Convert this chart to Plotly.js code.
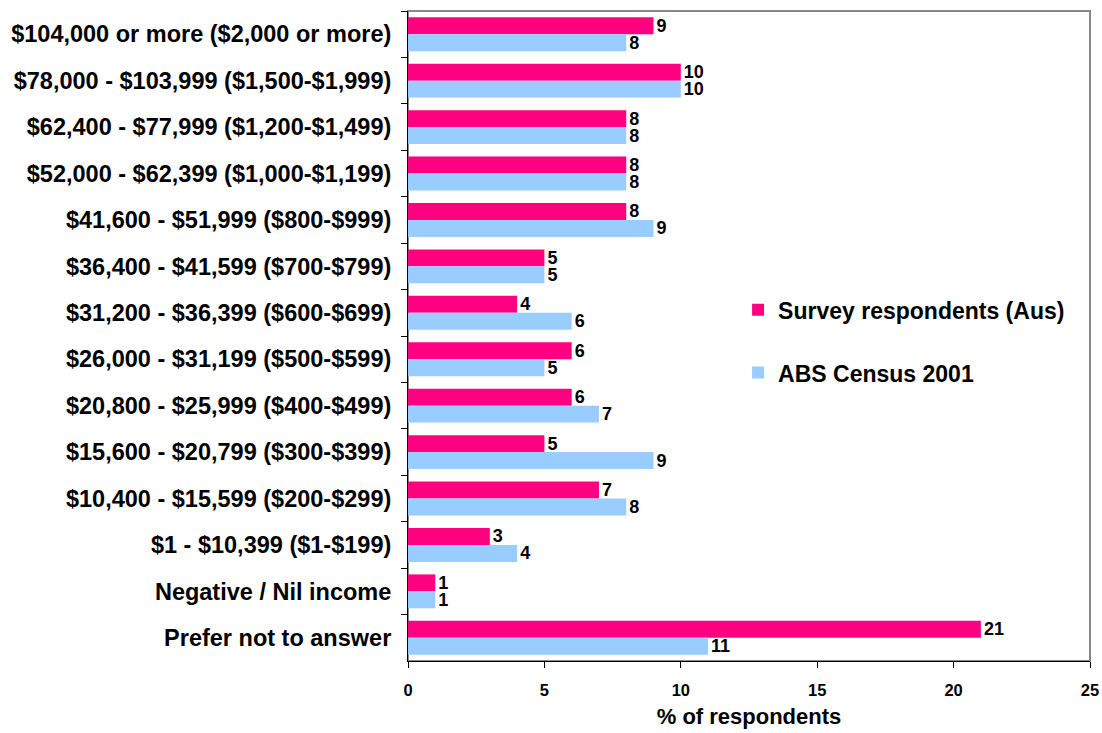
<!DOCTYPE html>
<html><head><meta charset="utf-8">
<script src="https://cdn.plot.ly/plotly-3.0.1.min.js"></script>
<style>html,body{margin:0;padding:0;background:#fff}#chart{width:1102px;height:733px}</style>
</head><body><div id="chart"></div>
<script>
const categories = [
  "$104,000 or more ($2,000 or more)",
  "$78,000 - $103,999 ($1,500-$1,999)",
  "$62,400 - $77,999 ($1,200-$1,499)",
  "$52,000 - $62,399 ($1,000-$1,199)",
  "$41,600 - $51,999 ($800-$999)",
  "$36,400 - $41,599 ($700-$799)",
  "$31,200 - $36,399 ($600-$699)",
  "$26,000 - $31,199 ($500-$599)",
  "$20,800 - $25,999 ($400-$499)",
  "$15,600 - $20,799 ($300-$399)",
  "$10,400 - $15,599 ($200-$299)",
  "$1 - $10,399 ($1-$199)",
  "Negative / Nil income",
  "Prefer not to answer"
];
const surveyValues = [9, 10, 8, 8, 8, 5, 4, 6, 6, 5, 7, 3, 1, 21];
const censusValues = [8, 10, 8, 8, 9, 5, 6, 5, 7, 9, 8, 4, 1, 11];
const seriesNames = ["Survey respondents (Aus)", "ABS Census 2001"];
const xTicks = [0, 5, 10, 15, 20, 25];

const FONT = "Liberation Sans, Arial, Helvetica, sans-serif";
const traces = [
  {type:"bar", orientation:"h", name:seriesNames[0], y:categories, x:surveyValues,
   marker:{color:"#FF0080"}, text:surveyValues.map(String), textposition:"outside",
   constraintext:"none",
   textfont:{family:FONT, size:18, color:"#000", weight:"bold"}, cliponaxis:false,
   legendgroup:"a"},
  {type:"bar", orientation:"h", name:seriesNames[1], y:categories, x:censusValues,
   marker:{color:"#99CCFF"}, text:censusValues.map(String), textposition:"outside",
   constraintext:"none",
   textfont:{family:FONT, size:18, color:"#000", weight:"bold"}, cliponaxis:false,
   legendgroup:"b"}
];
const layout = {
  width:1102, height:733,
  margin:{l:408, r:12, t:11, b:72},
  paper_bgcolor:"#fff", plot_bgcolor:"#fff",
  font:{family:FONT, color:"#000", weight:"bold"},
  barmode:"group", bargap:0.27, bargroupgap:0,
  showlegend:true,
  legend:{x:0.484, y:0.492, xanchor:"left", yanchor:"middle", bgcolor:"rgba(0,0,0,0)",
          font:{family:FONT, size:23, color:"#000", weight:"bold"},
          traceorder:"grouped", tracegroupgap:30},
  xaxis:{range:[0,25], tickvals:xTicks, ticktext:xTicks.map(String), showgrid:false, zeroline:false,
         showline:true, linecolor:"#000", linewidth:1, ticks:"outside", ticklen:6, tickcolor:"#000",
         ticklabelstandoff:8,
         tickfont:{family:FONT, size:16.5, color:"#000", weight:"bold"},
         title:{text:"% of respondents", font:{family:FONT, size:22, color:"#000", weight:"bold"}, standoff:10}},
  yaxis:{type:"category", autorange:"reversed", showgrid:false, zeroline:false,
         showline:true, linecolor:"#000", linewidth:1, ticks:"outside", ticklen:6, tickcolor:"#000",
         tickson:"boundaries", ticklabelstandoff:11,
         tickfont:{family:FONT, size:23.5, color:"#000", weight:"bold"}},
  shapes:[{type:"rect", xref:"paper", yref:"paper", x0:0, x1:1, y0:0, y1:1,
           line:{color:"#888", width:2}, layer:"below"}]
};
Plotly.newPlot("chart", traces, layout, {displayModeBar:false});
</script></body></html>
